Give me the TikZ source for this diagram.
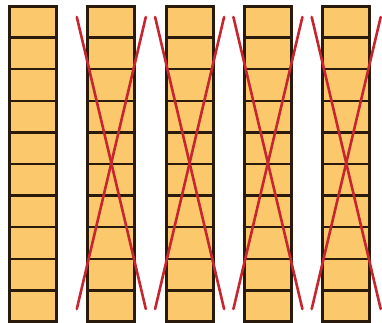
\documentclass[tikz,border=0pt]{standalone}
\begin{document}
\begin{tikzpicture}[x=1pt,y=-1pt,
  colbox/.style={fill=cellfill,draw=edge,line width=3pt},
  rowline/.style={draw=edge,line width=2.4pt},
  cross/.style={draw=crossred,line width=2.6pt,line cap=round}]
\definecolor{cellfill}{HTML}{FCC86C}
\definecolor{edge}{HTML}{2A1A0C}
\definecolor{crossred}{HTML}{C8262E}
\useasboundingbox[fill=white] (0,0) rectangle (382,323);
\foreach \i in {0,...,4}{
  \pgfmathsetmacro{\L}{8+78.3*\i}
  \coordinate (tl\i) at (\L+1.5,6.5);
  \coordinate (br\i) at (\L+48.5,321);
  \path[colbox] (tl\i) rectangle (br\i);
  \foreach \k in {1,...,9}{
    \pgfmathsetmacro{\yy}{6+31.6*\k}
    \draw[rowline] (\L+1.5,\yy) -- (\L+48.5,\yy);
  }
}
\foreach \i in {1,...,4}{
  \pgfmathsetmacro{\C}{33+78.3*\i}
  \coordinate (a\i) at (\C-34.5,17);
  \coordinate (b\i) at (\C+34.5,309);
  \coordinate (c\i) at (\C+34.5,17);
  \coordinate (d\i) at (\C-34.5,309);
  \draw[cross] (a\i) -- (b\i);
  \draw[cross] (c\i) -- (d\i);
}
\end{tikzpicture}
\end{document}
